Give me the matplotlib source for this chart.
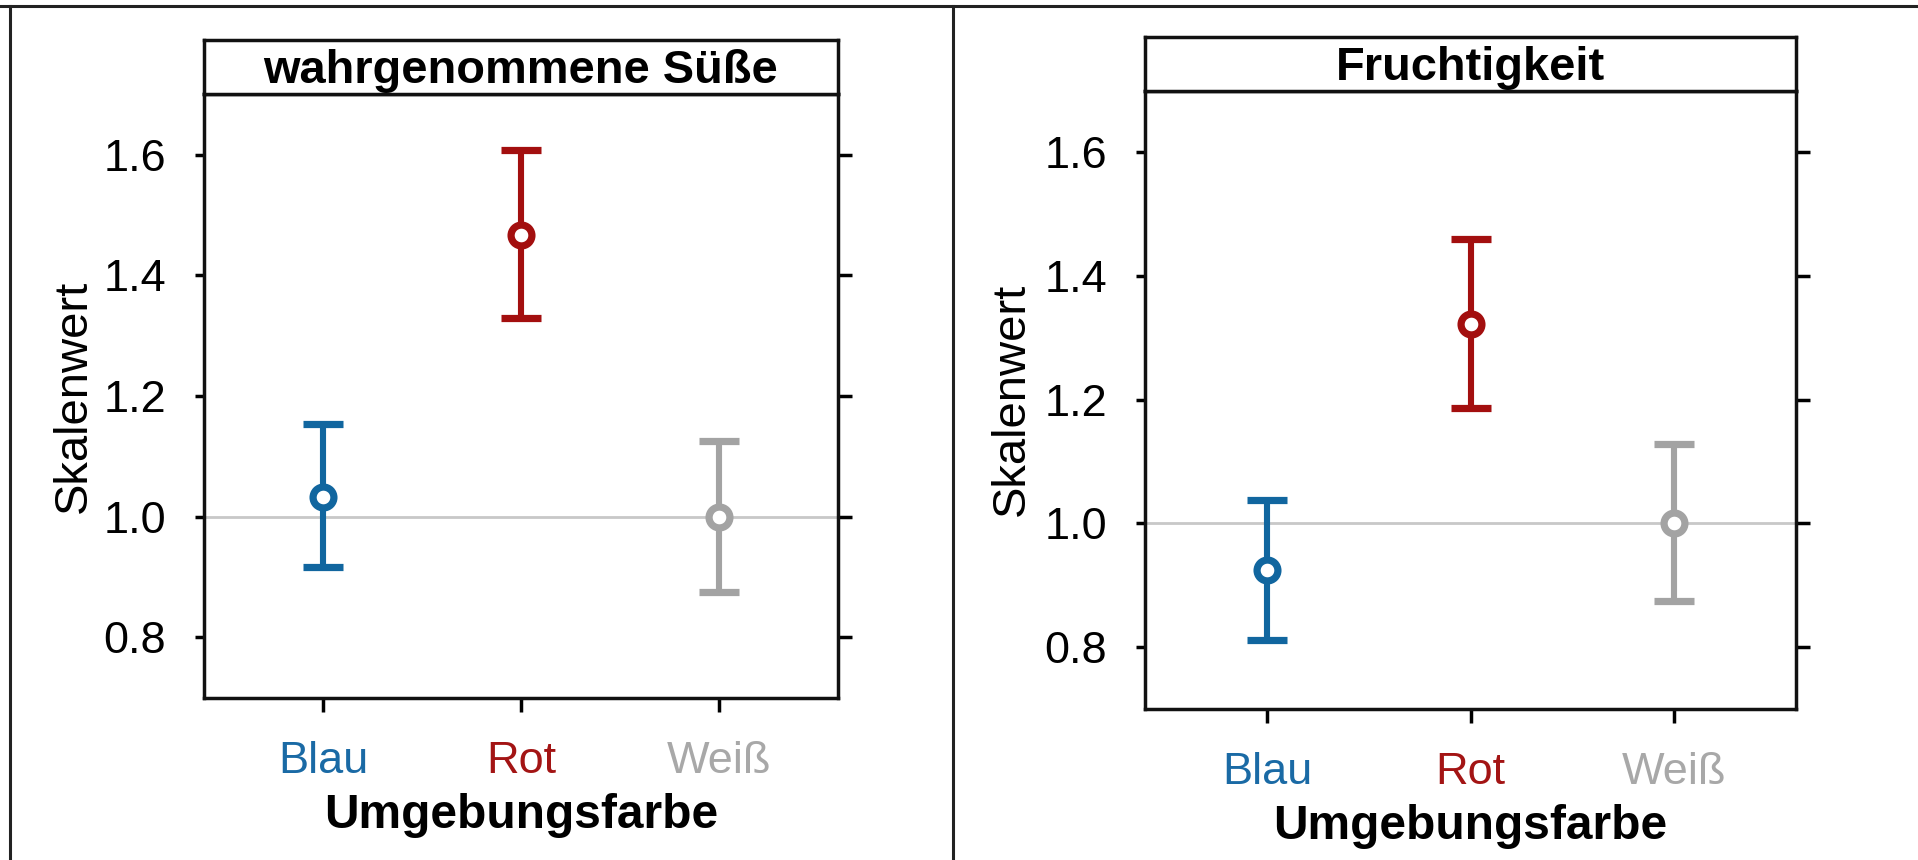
import matplotlib
matplotlib.use("Agg")
import matplotlib.pyplot as plt
from matplotlib.lines import Line2D

plt.rcParams['font.family'] = ['Liberation Sans', 'DejaVu Sans']

# ---- data ----
categories = ["Blau", "Rot", "Weiß"]
sweet_mean = [1.033, 1.467, 1.000]
sweet_lo = [0.916, 1.330, 0.875]
sweet_hi = [1.153, 1.608, 1.126]
fruit_mean = [0.924, 1.323, 1.000]
fruit_lo = [0.812, 1.187, 0.874]
fruit_hi = [1.038, 1.460, 1.129]
titles = ["wahrgenommene Süße", "Fruchtigkeit"]
yticks = [0.8, 1.0, 1.2, 1.4, 1.6]
ytick_labels = ["0.8", "1.0", "1.2", "1.4", "1.6"]
xlabel = "Umgebungsfarbe"
ylabel = "Skalenwert"

colors = ["#11669f", "#a30f0f", "#a3a3a3"]
label_colors = ["#1a6aa5", "#a31414", "#a8a8a8"]

W, H = 1918, 860
fig = plt.figure(figsize=(W / 100, H / 100), dpi=100)
fig.patch.set_facecolor("white")

FS = 32.5
FS_T = 33.8
FS_B = 34.5
FS_Y = 34.0
LW = 2.5

# panel geometry in pixels: (left, right, strip_top, axes_top, axes_bottom)
panels = [
    (204, 838, 39.5, 94.4, 697.8),
    (1145, 1796, 36.5, 90.5, 709.0),
]
datasets = [
    (sweet_mean, sweet_lo, sweet_hi),
    (fruit_mean, fruit_lo, fruit_hi),
]
ylabel_x = [96, 1034]
xlabel_top = [792.6, 803.6]

for i, ((l, r, st, at, ab), (m, lo, hi)) in enumerate(zip(panels, datasets)):
    ax = fig.add_axes([l / W, 1 - ab / H, (r - l) / W, (ab - at) / H])
    ax.set_xlim(0.4, 3.6)
    ax.set_ylim(0.7, 1.7)
    ax.axhline(1.0, color="#c8c8c8", lw=2.0, zorder=1)
    xs = [1, 2, 3]
    for j in range(3):
        ax.errorbar(xs[j], m[j],
                    yerr=[[m[j] - lo[j]], [hi[j] - m[j]]],
                    fmt="o", color=colors[j], ecolor=colors[j],
                    elinewidth=4.4, capsize=14.5, capthick=5.0,
                    markersize=15, markeredgewidth=5.2,
                    markerfacecolor="white", markeredgecolor=colors[j],
                    zorder=3)
    for s in ax.spines.values():
        s.set_linewidth(LW)
        s.set_color("#111111")
    ax.set_yticks(yticks)
    ax.set_yticklabels(ytick_labels, fontsize=FS)
    ax.set_xticks(xs)
    ax.set_xticklabels(categories, fontsize=FS)
    for tl, c in zip(ax.get_xticklabels(), label_colors):
        tl.set_color(c)
    ax.tick_params(axis="y", which="both", left=True, right=True,
                   direction="out", width=LW, pad=20.6, length=6.5)
    ax.tick_params(axis="x", direction="out", length=10, width=LW, pad=20.8)
    for t in ax.yaxis.get_major_ticks():
        t.tick2line.set_markersize(10)
    ax.set_xlabel(xlabel, fontsize=FS_B, fontweight="bold")
    ax.xaxis.set_label_coords(0.5, (ab - xlabel_top[i]) / (ab - at))
    ax.set_ylabel(ylabel, fontsize=FS_Y)
    ax.yaxis.set_label_coords((ylabel_x[i] - l) / (r - l), 0.5)

    sax = fig.add_axes([l / W, 1 - at / H, (r - l) / W, (at - st) / H])
    sax.set_xticks([])
    sax.set_yticks([])
    for s in sax.spines.values():
        s.set_linewidth(LW)
        s.set_color("#111111")
    sax.text(0.5, 0.2, titles[i], ha="center", va="baseline",
             fontsize=FS_T, fontweight="bold", transform=sax.transAxes)

# outer table lines
fig.add_artist(Line2D([0, 1], [1 - 6 / H, 1 - 6 / H], transform=fig.transFigure,
                      color="#222222", lw=2.2))
fig.add_artist(Line2D([10 / W, 10 / W], [0, 1 - 6 / H], transform=fig.transFigure,
                      color="#222222", lw=2.2))
fig.add_artist(Line2D([953 / W, 953 / W], [0, 1 - 6 / H], transform=fig.transFigure,
                      color="#222222", lw=2.2))

fig.savefig("out.png", dpi=100, facecolor="white")
